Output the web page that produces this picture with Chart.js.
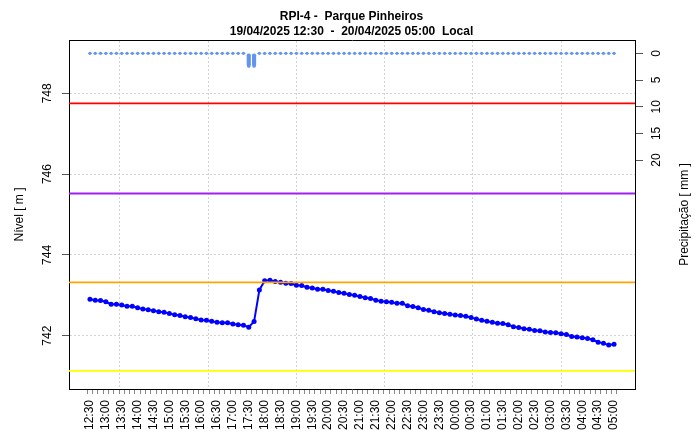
<!DOCTYPE html>
<html>
<head>
<meta charset="utf-8">
<script src="https://cdn.jsdelivr.net/npm/chart.js@4/dist/chart.umd.min.js"></script>
<style>
  html, body { margin: 0; padding: 0; background: #fff; }
  #wrap { width: 695px; height: 441px; }
</style>
</head>
<body>
<div id="wrap"><canvas id="nivelChart"></canvas></div>
<script>
// rótulos a cada 30 min (leituras a cada 10 min, 12:30 -> 05:00)
var timeLabels = ['12:30','13:00','13:30','14:00','14:30','15:00','15:30','16:00','16:30','17:00','17:30',
  '18:00','18:30','19:00','19:30','20:00','20:30','21:00','21:30','22:00','22:30','23:00','23:30',
  '00:00','00:30','01:00','01:30','02:00','02:30','03:00','03:30','04:00','04:30','05:00'];

// nível [m], uma leitura a cada 10 min
var nivel = [742.90,742.88,742.87,742.84,742.78,742.78,742.76,742.73,742.73,742.69,
  742.66,742.64,742.62,742.59,742.58,742.55,742.52,742.50,742.47,742.45,
  742.42,742.39,742.38,742.36,742.33,742.32,742.32,742.29,742.27,742.26,
  742.21,742.35,743.13,743.36,743.37,743.34,743.32,743.30,743.29,743.25,
  743.24,743.20,743.18,743.15,743.15,743.12,743.10,743.07,743.05,743.02,
  743.00,742.97,742.94,742.92,742.88,742.85,742.84,742.83,742.80,742.80,
  742.74,742.72,742.69,742.65,742.63,742.59,742.57,742.55,742.53,742.51,
  742.50,742.48,742.45,742.41,742.38,742.36,742.33,742.31,742.30,742.27,
  742.22,742.20,742.17,742.16,742.13,742.12,742.09,742.08,742.07,742.05,
  742.03,741.98,741.97,741.95,741.93,741.90,741.84,741.81,741.77,741.79];

// precipitação [mm]
var chuva = [0,0,0,0,0,0,0,0,0,0, 0,0,0,0,0,0,0,0,0,0, 0,0,0,0,0,0,0,0,0,0,
  2.4,2.4,0,0,0,0,0,0,0,0, 0,0,0,0,0,0,0,0,0,0, 0,0,0,0,0,0,0,0,0,0,
  0,0,0,0,0,0,0,0,0,0, 0,0,0,0,0,0,0,0,0,0, 0,0,0,0,0,0,0,0,0,0, 0,0,0,0,0,0,0,0,0,0];

// cotas de referência
var cotas = [747.75, 745.52, 743.32, 741.13];
var coresCotas = ['#FF0000', '#A020F0', '#FFA500', '#FFFF00'];

var nivelTicks = [742, 744, 746, 748];
var chuvaTicks = [0, 5, 10, 15, 20];

// eixo x: índice de 10 min, com 4% de folga como no R
var n = nivel.length;
var xPad = (n - 1) * 0.04;
var xMin = -xPad, xMax = n - 1 + xPad;

// grade vertical a cada 10000 s (epoch), início 19/04/2025 12:30 -03:00
var startEpoch = 1745076600;
var gridX = [];
for (var k = Math.ceil(startEpoch / 10000); k * 10000 < startEpoch + xMax * 600; k++) {
  gridX.push((k * 10000 - startEpoch) / 600);
}

Chart.defaults.font.family = '"Liberation Sans", Arial, sans-serif';
Chart.defaults.font.size = 12;
Chart.defaults.color = '#000';

var datasets = [];
cotas.forEach(function (c, i) {
  datasets.push({
    type: 'line',
    data: [{x: xMin, y: c}, {x: xMax, y: c}],
    borderColor: coresCotas[i],
    borderWidth: 1.8,
    pointRadius: 0,
    yAxisID: 'y',
    order: 0
  });
});
datasets.push({
  type: 'line',
  label: 'Nível',
  data: nivel.map(function (v, i) { return {x: i, y: v}; }),
  borderColor: '#0000FF',
  backgroundColor: '#0000FF',
  borderWidth: 2,
  pointRadius: 2.5,
  pointBorderWidth: 0,
  tension: 0,
  yAxisID: 'y',
  order: 1
});
datasets.push({
  type: 'bar',
  label: 'Chuva',
  data: chuva.map(function (v, i) { return {x: i, y: v}; }),
  backgroundColor: '#6495ED',
  barThickness: 3.5,
  borderRadius: 2,
  borderSkipped: false,
  yAxisID: 'y2',
  order: 2
});
datasets.push({
  type: 'line',
  label: 'Chuva pts',
  data: chuva.map(function (v, i) { return {x: i, y: v}; }),
  showLine: false,
  pointRadius: 1.6,
  pointBorderWidth: 0,
  backgroundColor: '#6495ED',
  borderColor: '#6495ED',
  yAxisID: 'y2',
  order: 2
});

// título do eixo direito (Chart.js gira o título da direita no sentido oposto)
var rightTitle = {
  id: 'rightTitle',
  afterDraw: function (chart) {
    var s = chart.scales.y2, ctx = chart.ctx;
    ctx.save();
    ctx.translate(s.right - 10, (s.top + s.bottom) / 2);
    ctx.rotate(-Math.PI / 2);
    ctx.font = '12px "Liberation Sans", Arial, sans-serif';
    ctx.fillStyle = '#000';
    ctx.textAlign = 'center';
    ctx.textBaseline = 'middle';
    ctx.fillText('Precipitação [ mm ]', 0, 0);
    ctx.restore();
  }
};

function girar(s) { s.labelRotation = 90; }

var ctx = document.getElementById('nivelChart').getContext('2d');
var nivelChart = new Chart(ctx, {
  type: 'line',
  data: { datasets: datasets },
  plugins: [rightTitle],
  options: {
    responsive: true,
    maintainAspectRatio: false,
    animation: false,
    layout: { padding: { left: 8, right: 0, top: 0, bottom: 0 } },
    plugins: {
      legend: { display: false },
      tooltip: { enabled: false },
      title: {
        display: true,
        text: ['RPI-4 -  Parque Pinheiros', '19/04/2025 12:30  -  20/04/2025 05:00  Local'],
        font: { size: 12, weight: 'bold', lineHeight: 1.25 },
        padding: { top: 9, bottom: 1 },
        color: '#000'
      }
    },
    scales: {
      x: {
        type: 'linear',
        position: 'bottom',
        min: xMin,
        max: xMax,
        offset: false,
        afterBuildTicks: function (s) {
          s.ticks = nivel.map(function (v, i) { return {value: i}; });
        },
        afterFit: function (s) { s.height = 52; },
        ticks: {
          autoSkip: false,
          minRotation: 90,
          maxRotation: 90,
          padding: 6,
          callback: function (v) { return v % 3 === 0 ? timeLabels[v / 3] : ''; }
        },
        grid: { drawOnChartArea: false, drawTicks: true, tickLength: 5, tickColor: '#888' },
        border: { display: true, color: '#000', width: 1 }
      },
      xg: {
        type: 'linear',
        position: 'top',
        min: xMin,
        max: xMax,
        offset: false,
        afterBuildTicks: function (s) {
          s.ticks = gridX.map(function (v) { return {value: v}; });
        },
        afterFit: function (s) { s.height = 0; },
        ticks: { display: false },
        grid: { drawTicks: false, color: '#D3D3D3', lineWidth: 1 },
        border: { display: true, color: '#000', width: 1, dash: [2, 2] }
      },
      y: {
        type: 'linear',
        position: 'left',
        min: 740.68,
        max: 749.32,
        afterBuildTicks: function (s) {
          s.ticks = nivelTicks.map(function (v) { return {value: v}; });
        },
        afterCalculateLabelRotation: girar,
        afterFit: function (s) { s.width = 61; },
        ticks: { minRotation: 90, maxRotation: 90, crossAlign: 'center', padding: 4 },
        grid: { color: '#D3D3D3', tickLength: 7, tickColor: '#555' },
        border: { display: true, color: '#000', width: 1, dash: [2, 2] },
        title: { display: true, text: 'Nível [ m ]', padding: { top: 4, bottom: 0 } }
      },
      y2: {
        type: 'linear',
        position: 'right',
        reverse: true,
        min: -2.5,
        max: 62.9,
        afterBuildTicks: function (s) {
          s.ticks = chuvaTicks.map(function (v) { return {value: v}; });
        },
        afterCalculateLabelRotation: girar,
        afterFit: function (s) { s.width = 60; },
        ticks: { minRotation: 90, maxRotation: 90, crossAlign: 'center', padding: 7 },
        grid: { drawOnChartArea: false, tickLength: 8, tickColor: '#555' },
        border: { display: true, color: '#000', width: 1 }
      }
    }
  }
});
</script>
</body>
</html>
